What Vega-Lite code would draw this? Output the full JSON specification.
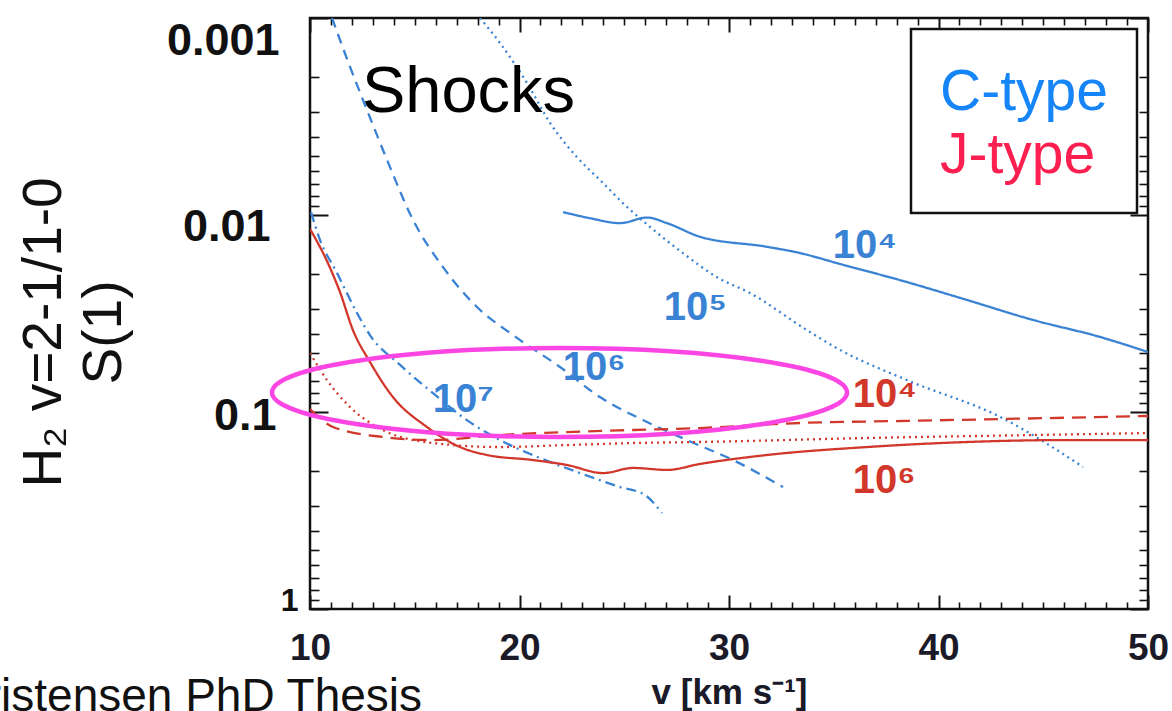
{
  "$schema": "https://vega.github.io/schema/vega-lite/v6.json",
  "width": 838,
  "height": 591,
  "autosize": {"type": "none"},
  "padding": {"left": 310, "top": 18, "right": 24, "bottom": 102},
  "background": "white",
  "config": {
    "view": {"stroke": "#111111", "strokeWidth": 2.5},
    "axis": {"grid": false, "domain": false, "tickColor": "#111111", "labelOverlap": false, "labelBound": false}
  },
  "datasets": {
    "curves": [
      {"type": "C-type", "model": "C-type 10⁴", "v": 22.08, "val": 0.00967},
      {"type": "C-type", "model": "C-type 10⁴", "v": 23.4, "val": 0.0104},
      {"type": "C-type", "model": "C-type 10⁴", "v": 24.8, "val": 0.011},
      {"type": "C-type", "model": "C-type 10⁴", "v": 26.09, "val": 0.0103},
      {"type": "C-type", "model": "C-type 10⁴", "v": 27.04, "val": 0.011},
      {"type": "C-type", "model": "C-type 10⁴", "v": 28.62, "val": 0.0129},
      {"type": "C-type", "model": "C-type 10⁴", "v": 31.81, "val": 0.0145},
      {"type": "C-type", "model": "C-type 10⁴", "v": 33.39, "val": 0.0156},
      {"type": "C-type", "model": "C-type 10⁴", "v": 35.44, "val": 0.0179},
      {"type": "C-type", "model": "C-type 10⁴", "v": 38.16, "val": 0.0214},
      {"type": "C-type", "model": "C-type 10⁴", "v": 41.36, "val": 0.027},
      {"type": "C-type", "model": "C-type 10⁴", "v": 44.51, "val": 0.0341},
      {"type": "C-type", "model": "C-type 10⁴", "v": 47.71, "val": 0.0416},
      {"type": "C-type", "model": "C-type 10⁴", "v": 50, "val": 0.0496},

      {"type": "C-type", "model": "C-type 10⁵", "v": 18.11, "val": 0.001},
      {"type": "C-type", "model": "C-type 10⁵", "v": 19.07, "val": 0.00134},
      {"type": "C-type", "model": "C-type 10⁵", "v": 20.36, "val": 0.00214},
      {"type": "C-type", "model": "C-type 10⁵", "v": 21.46, "val": 0.00341},
      {"type": "C-type", "model": "C-type 10⁵", "v": 22.74, "val": 0.00508},
      {"type": "C-type", "model": "C-type 10⁵", "v": 23.84, "val": 0.00664},
      {"type": "C-type", "model": "C-type 10⁵", "v": 25.13, "val": 0.0091},
      {"type": "C-type", "model": "C-type 10⁵", "v": 26.23, "val": 0.0115},
      {"type": "C-type", "model": "C-type 10⁵", "v": 27.8, "val": 0.0156},
      {"type": "C-type", "model": "C-type 10⁵", "v": 29.43, "val": 0.0207},
      {"type": "C-type", "model": "C-type 10⁵", "v": 31.0, "val": 0.0249},
      {"type": "C-type", "model": "C-type 10⁵", "v": 33.72, "val": 0.0384},
      {"type": "C-type", "model": "C-type 10⁵", "v": 35.3, "val": 0.0484},
      {"type": "C-type", "model": "C-type 10⁵", "v": 38.5, "val": 0.0689},
      {"type": "C-type", "model": "C-type 10⁵", "v": 42.94, "val": 0.1059},
      {"type": "C-type", "model": "C-type 10⁵", "v": 46.9, "val": 0.1901},

      {"type": "C-type", "model": "C-type 10⁶", "v": 11.05, "val": 0.001},
      {"type": "C-type", "model": "C-type 10⁶", "v": 11.91, "val": 0.00177},
      {"type": "C-type", "model": "C-type 10⁶", "v": 12.72, "val": 0.00293},
      {"type": "C-type", "model": "C-type 10⁶", "v": 13.68, "val": 0.00526},
      {"type": "C-type", "model": "C-type 10⁶", "v": 14.92, "val": 0.0106},
      {"type": "C-type", "model": "C-type 10⁶", "v": 16.35, "val": 0.0184},
      {"type": "C-type", "model": "C-type 10⁶", "v": 17.97, "val": 0.0293},
      {"type": "C-type", "model": "C-type 10⁶", "v": 19.69, "val": 0.0407},
      {"type": "C-type", "model": "C-type 10⁶", "v": 21.93, "val": 0.0591},
      {"type": "C-type", "model": "C-type 10⁶", "v": 23.84, "val": 0.084},
      {"type": "C-type", "model": "C-type 10⁶", "v": 25.89, "val": 0.1099},
      {"type": "C-type", "model": "C-type 10⁶", "v": 27.99, "val": 0.1388},
      {"type": "C-type", "model": "C-type 10⁶", "v": 30.19, "val": 0.1753},
      {"type": "C-type", "model": "C-type 10⁶", "v": 32.58, "val": 0.2404},

      {"type": "C-type", "model": "C-type 10⁷", "v": 10.05, "val": 0.0097},
      {"type": "C-type", "model": "C-type 10⁷", "v": 10.48, "val": 0.0134},
      {"type": "C-type", "model": "C-type 10⁷", "v": 11.29, "val": 0.0197},
      {"type": "C-type", "model": "C-type 10⁷", "v": 12.24, "val": 0.0314},
      {"type": "C-type", "model": "C-type 10⁷", "v": 12.86, "val": 0.0407},
      {"type": "C-type", "model": "C-type 10⁷", "v": 14.3, "val": 0.0577},
      {"type": "C-type", "model": "C-type 10⁷", "v": 15.87, "val": 0.0802},
      {"type": "C-type", "model": "C-type 10⁷", "v": 17.49, "val": 0.11},
      {"type": "C-type", "model": "C-type 10⁷", "v": 19.07, "val": 0.1388},
      {"type": "C-type", "model": "C-type 10⁷", "v": 20.98, "val": 0.1713},
      {"type": "C-type", "model": "C-type 10⁷", "v": 22.89, "val": 0.2042},
      {"type": "C-type", "model": "C-type 10⁷", "v": 24.8, "val": 0.2404},
      {"type": "C-type", "model": "C-type 10⁷", "v": 25.99, "val": 0.2638},
      {"type": "C-type", "model": "C-type 10⁷", "v": 26.8, "val": 0.326},

      {"type": "J-type", "model": "J-type 10⁴", "v": 10, "val": 0.0966},
      {"type": "J-type", "model": "J-type 10⁴", "v": 11.1, "val": 0.1191},
      {"type": "J-type", "model": "J-type 10⁴", "v": 13.48, "val": 0.1339},
      {"type": "J-type", "model": "J-type 10⁴", "v": 15.87, "val": 0.1388},
      {"type": "J-type", "model": "J-type 10⁴", "v": 19.07, "val": 0.1309},
      {"type": "J-type", "model": "J-type 10⁴", "v": 22.27, "val": 0.1264},
      {"type": "J-type", "model": "J-type 10⁴", "v": 25.42, "val": 0.1234},
      {"type": "J-type", "model": "J-type 10⁴", "v": 28.62, "val": 0.1206},
      {"type": "J-type", "model": "J-type 10⁴", "v": 33.39, "val": 0.1137},
      {"type": "J-type", "model": "J-type 10⁴", "v": 38.16, "val": 0.1111},
      {"type": "J-type", "model": "J-type 10⁴", "v": 42.94, "val": 0.1086},
      {"type": "J-type", "model": "J-type 10⁴", "v": 50, "val": 0.1048},

      {"type": "J-type", "model": "J-type 10⁵", "v": 10, "val": 0.0502},
      {"type": "J-type", "model": "J-type 10⁵", "v": 10.81, "val": 0.0689},
      {"type": "J-type", "model": "J-type 10⁵", "v": 11.91, "val": 0.0944},
      {"type": "J-type", "model": "J-type 10⁵", "v": 13.48, "val": 0.1234},
      {"type": "J-type", "model": "J-type 10⁵", "v": 15.87, "val": 0.1437},
      {"type": "J-type", "model": "J-type 10⁵", "v": 19.07, "val": 0.1506},
      {"type": "J-type", "model": "J-type 10⁵", "v": 22.27, "val": 0.1472},
      {"type": "J-type", "model": "J-type 10⁵", "v": 25.42, "val": 0.1437},
      {"type": "J-type", "model": "J-type 10⁵", "v": 28.62, "val": 0.142},
      {"type": "J-type", "model": "J-type 10⁵", "v": 36.59, "val": 0.1355},
      {"type": "J-type", "model": "J-type 10⁵", "v": 44.51, "val": 0.1309},
      {"type": "J-type", "model": "J-type 10⁵", "v": 50, "val": 0.1279},

      {"type": "J-type", "model": "J-type 10⁶", "v": 10, "val": 0.01178},
      {"type": "J-type", "model": "J-type 10⁶", "v": 10.81, "val": 0.01714},
      {"type": "J-type", "model": "J-type 10⁶", "v": 11.43, "val": 0.0246},
      {"type": "J-type", "model": "J-type 10⁶", "v": 12.05, "val": 0.0384},
      {"type": "J-type", "model": "J-type 10⁶", "v": 12.86, "val": 0.0557},
      {"type": "J-type", "model": "J-type 10⁶", "v": 13.96, "val": 0.084},
      {"type": "J-type", "model": "J-type 10⁶", "v": 15.58, "val": 0.1191},
      {"type": "J-type", "model": "J-type 10⁶", "v": 17.16, "val": 0.1506},
      {"type": "J-type", "model": "J-type 10⁶", "v": 18.45, "val": 0.1653},
      {"type": "J-type", "model": "J-type 10⁶", "v": 20.64, "val": 0.1753},
      {"type": "J-type", "model": "J-type 10⁶", "v": 22.27, "val": 0.1858},
      {"type": "J-type", "model": "J-type 10⁶", "v": 23.99, "val": 0.2042},
      {"type": "J-type", "model": "J-type 10⁶", "v": 25.42, "val": 0.1923},
      {"type": "J-type", "model": "J-type 10⁶", "v": 27.04, "val": 0.1968},
      {"type": "J-type", "model": "J-type 10⁶", "v": 28.62, "val": 0.1835},
      {"type": "J-type", "model": "J-type 10⁶", "v": 31.81, "val": 0.1653},
      {"type": "J-type", "model": "J-type 10⁶", "v": 36.59, "val": 0.1506},
      {"type": "J-type", "model": "J-type 10⁶", "v": 41.36, "val": 0.142},
      {"type": "J-type", "model": "J-type 10⁶", "v": 46.13, "val": 0.1388},
      {"type": "J-type", "model": "J-type 10⁶", "v": 50, "val": 0.1388}
    ],
    "densityLabels": [
      {"type": "C-type", "label": "10⁴", "v": 34.95, "val": 0.01653},
      {"type": "C-type", "label": "10⁵", "v": 26.89, "val": 0.03412},
      {"type": "C-type", "label": "10⁶", "v": 22.07, "val": 0.06881},
      {"type": "C-type", "label": "10⁷", "v": 15.86, "val": 0.1},
      {"type": "J-type", "label": "10⁴", "v": 35.91, "val": 0.09432},
      {"type": "J-type", "label": "10⁶", "v": 35.91, "val": 0.2577}
    ]
  },
  "layer": [
    {
      "data": {"name": "curves"},
      "mark": {"type": "line", "strokeWidth": 2.3, "clip": true, "interpolate": "monotone"},
      "encoding": {
        "x": {
          "field": "v", "type": "quantitative",
          "scale": {"type": "linear", "domain": [10, 50], "nice": false, "zero": false},
          "axis": {
            "orient": "bottom",
            "values": [10,11,12,13,14,15,16,17,18,19,20,21,22,23,24,25,26,27,28,29,30,31,32,33,34,35,36,37,38,39,40,41,42,43,44,45,46,47,48,49,50],
            "labelExpr": "datum.value % 10 == 0 ? datum.label : ''",
            "labelFlush": false,
            "labelFont": "Liberation Sans",
            "labelFontWeight": "bold",
            "labelFontSize": 37,
            "labelColor": "#1a1a28",
            "labelPadding": 35,
            "tickSize": {"condition": {"test": "datum.value % 10 == 0", "value": -14}, "value": -7},
            "tickWidth": {"condition": {"test": "datum.value % 10 == 0", "value": 2}, "value": 1.6},
            "title": "v [km s⁻¹]",
            "titleFont": "Liberation Sans",
            "titleFontWeight": "bold",
            "titleFontSize": 35,
            "titleColor": "#1a1a28",
            "titlePadding": 2
          }
        },
        "y": {
          "field": "val", "type": "quantitative",
          "scale": {"type": "log", "domain": [0.001, 1], "reverse": true, "nice": false},
          "axis": {
            "orient": "left",
            "values": [0.001,0.002,0.003,0.004,0.005,0.006,0.007,0.008,0.009,0.01,0.02,0.03,0.04,0.05,0.06,0.07,0.08,0.09,0.1,0.2,0.3,0.4,0.5,0.6,0.7,0.8,0.9,1],
            "labelExpr": "datum.value == 0.001 ? '0.001' : datum.value == 0.01 ? '0.01' : datum.value == 0.1 ? '0.1' : datum.value == 1 ? '1' : ''",
            "labelFlush": true,
            "labelFont": "Liberation Sans",
            "labelFontWeight": "bold",
            "labelFontSize": {"condition": {"test": "datum.value == 1", "value": 32}, "value": 45},
            "labelColor": "#111111",
            "labelPadding": {"condition": [{"test": "datum.value == 1", "value": 30}, {"test": "datum.value == 0.01", "value": 58}, {"test": "datum.value == 0.1", "value": 52}], "value": 49},
            "labelOffset": {"condition": [{"test": "datum.value == 1", "value": 8}, {"test": "datum.value == 0.01", "value": 11}, {"test": "datum.value == 0.1", "value": 3}], "value": 0},
            "tickSize": {"condition": {"test": "datum.value == 0.001 || datum.value == 0.01 || datum.value == 0.1 || datum.value == 1", "value": -18}, "value": -9},
            "tickWidth": {"condition": {"test": "datum.value == 0.001 || datum.value == 0.01 || datum.value == 0.1 || datum.value == 1", "value": 2}, "value": 1.6},
            "title": ["H₂ v=2-1/1-0", "S(1)"],
            "titleFont": "Liberation Sans",
            "titleFontWeight": "normal",
            "titleFontSize": 55,
            "titleLineHeight": 60,
            "titleColor": "#111111",
            "titlePadding": 34,
            "titleY": 314
          }
        },
        "color": {
          "field": "type", "type": "nominal",
          "scale": {"domain": ["C-type", "J-type"], "range": ["#3a83d4", "#d2372b"]},
          "legend": {
            "orient": "top-right",
            "offset": 11,
            "title": null,
            "symbolType": "circle",
            "symbolSize": 0,
            "symbolStrokeWidth": 0,
            "symbolOpacity": 0,
            "labelOffset": -57,
            "labelFont": "Liberation Sans",
            "labelFontSize": 57,
            "labelLimit": 0,
            "padding": 29,
            "rowPadding": 0,
            "strokeColor": "#111111",
            "fillColor": "white",
            "encode": {
              "legend": {"update": {"strokeWidth": {"value": 2.5}}},
              "labels": {"update": {"fill": {"signal": "datum.value === 'C-type' ? '#1585f7' : '#fc1f4f'"}, "dy": {"value": 6}}}
            }
          }
        },
        "strokeDash": {
          "field": "model", "type": "nominal",
          "scale": {
            "domain": ["C-type 10⁴", "C-type 10⁵", "C-type 10⁶", "C-type 10⁷", "J-type 10⁴", "J-type 10⁵", "J-type 10⁶"],
            "range": [[1, 0], [2, 4], [10, 7], [10, 5, 2, 5], [14, 8], [2, 4], [1, 0]]
          },
          "legend": null
        }
      }
    },
    {
      "data": {"name": "densityLabels"},
      "mark": {"type": "text", "align": "left", "baseline": "alphabetic", "font": "Liberation Sans Narrow, Liberation Sans", "fontWeight": "bold", "fontSize": 40},
      "encoding": {
        "x": {
          "field": "v", "type": "quantitative",
          "scale": {"type": "linear", "domain": [10, 50], "nice": false, "zero": false},
          "axis": {
            "orient": "top",
            "values": [10,11,12,13,14,15,16,17,18,19,20,21,22,23,24,25,26,27,28,29,30,31,32,33,34,35,36,37,38,39,40,41,42,43,44,45,46,47,48,49,50],
            "labels": false,
            "title": null,
            "tickSize": {"condition": {"test": "datum.value % 10 == 0", "value": -14}, "value": -7},
            "tickWidth": {"condition": {"test": "datum.value % 10 == 0", "value": 2}, "value": 1.6}
          }
        },
        "y": {
          "field": "val", "type": "quantitative",
          "scale": {"type": "log", "domain": [0.001, 1], "reverse": true, "nice": false},
          "axis": {
            "orient": "right",
            "values": [0.001,0.002,0.003,0.004,0.005,0.006,0.007,0.008,0.009,0.01,0.02,0.03,0.04,0.05,0.06,0.07,0.08,0.09,0.1,0.2,0.3,0.4,0.5,0.6,0.7,0.8,0.9,1],
            "labels": false,
            "title": null,
            "tickSize": {"condition": {"test": "datum.value == 0.001 || datum.value == 0.01 || datum.value == 0.1 || datum.value == 1", "value": -18}, "value": -9},
            "tickWidth": {"condition": {"test": "datum.value == 0.001 || datum.value == 0.01 || datum.value == 0.1 || datum.value == 1", "value": 2}, "value": 1.6}
          }
        },
        "text": {"field": "label"},
        "color": {"field": "type", "type": "nominal"}
      }
    },
    {
      "data": {"values": [{"text": "Shocks", "v": 12.48, "val": 0.003}]},
      "mark": {"type": "text", "align": "left", "baseline": "alphabetic", "font": "Liberation Sans", "fontSize": 65, "color": "#000000"},
      "encoding": {
        "x": {"field": "v", "type": "quantitative", "scale": {"type": "linear", "domain": [10, 50], "nice": false, "zero": false}, "axis": null},
        "y": {"field": "val", "type": "quantitative", "scale": {"type": "log", "domain": [0.001, 1], "reverse": true, "nice": false}, "axis": null},
        "text": {"field": "text"}
      }
    },
    {
      "data": {"values": [{"v": 21.91, "val": 0.0796}]},
      "mark": {
        "type": "point",
        "shape": "M -1 0 C -1 -0.0855 -0.5523 -0.1548 0 -0.1548 C 0.5523 -0.1548 1 -0.0855 1 0 C 1 0.0855 0.5523 0.1548 0 0.1548 C -0.5523 0.1548 -1 0.0855 -1 0 Z",
        "size": 330625,
        "filled": false,
        "stroke": "#fb46e4",
        "strokeWidth": 4.5,
        "opacity": 1
      },
      "encoding": {
        "x": {"field": "v", "type": "quantitative", "scale": {"type": "linear", "domain": [10, 50], "nice": false, "zero": false}, "axis": null},
        "y": {"field": "val", "type": "quantitative", "scale": {"type": "log", "domain": [0.001, 1], "reverse": true, "nice": false}, "axis": null}
      }
    },
    {
      "data": {"values": [{"text": "Kristensen PhD Thesis", "v": 15.35, "val": 3.295}]},
      "mark": {"type": "text", "align": "right", "baseline": "alphabetic", "font": "Liberation Sans", "fontSize": 46, "color": "#111111"},
      "encoding": {
        "x": {"field": "v", "type": "quantitative", "scale": {"type": "linear", "domain": [10, 50], "nice": false, "zero": false}, "axis": null},
        "y": {"field": "val", "type": "quantitative", "scale": {"type": "log", "domain": [0.001, 1], "reverse": true, "nice": false}, "axis": null},
        "text": {"field": "text"}
      }
    }
  ],
  "resolve": {"axis": {"x": "independent", "y": "independent"}}
}
